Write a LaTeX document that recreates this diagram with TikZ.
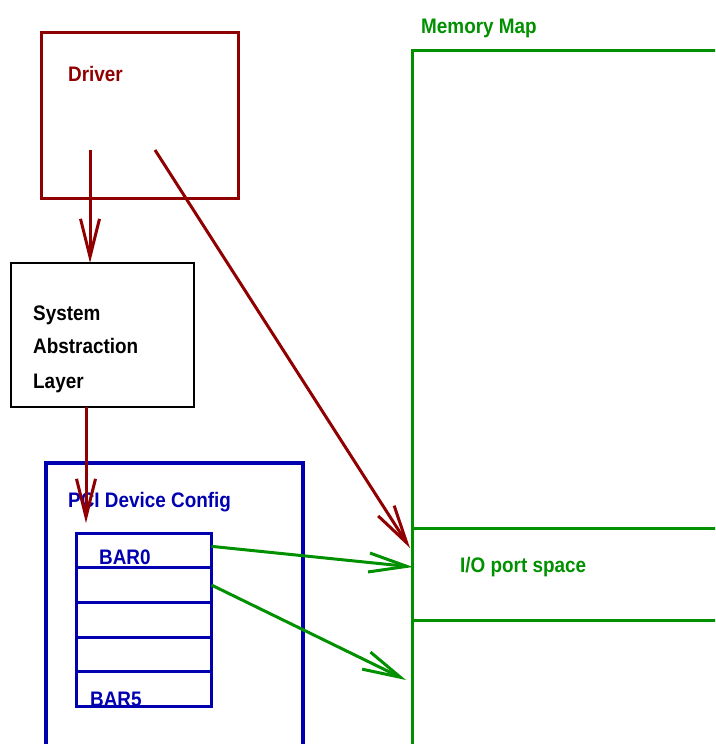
\documentclass[tikz,border=0pt]{standalone}
\usepackage{fontspec}
\setmainfont{Liberation Sans}[FakeStretch=0.9]
\usetikzlibrary{arrows.meta}
\definecolor{drvred}{RGB}{144,0,0}
\definecolor{pciblue}{RGB}{0,0,176}
\definecolor{memgreen}{RGB}{0,144,0}
\tikzset{
  box/.style={draw, anchor=north west, inner sep=0pt, outer sep=0pt},
  lbl/.style={anchor=base west, inner sep=0pt, font=\fontsize{21}{25}\selectfont\bfseries},
  barb/.style={-{Straight Barb[length=38pt,width=19pt]}, line width=3pt},
}
\begin{document}
\begin{tikzpicture}[x=1pt,y=-1pt]
\clip (0,0) rectangle (715,744);

% driver and abstraction layer
\node[box, drvred, line width=3pt, minimum width=197, minimum height=166] (drv) at (41,32) {};
\node[lbl, drvred] (drvtxt) at (68,81) {Driver};
\node[box, black, line width=1.2pt, minimum width=183, minimum height=144] (sal) at (11,263) {};
\node[lbl] (sal1) at (33,320) {System};
\node[lbl] (sal2) at (33,353) {Abstraction};
\node[lbl] (sal3) at (33,388) {Layer};

% pci config space
\node[box, pciblue, line width=3.2pt, minimum width=257, minimum height=340] (pci) at (46,463) {};
\node[lbl, pciblue] (pcitxt) at (68,507) {PCI Device Config};
\node[lbl, pciblue] (bar0txt) at (99,564) {BAR0};
\node[lbl, pciblue] (bar5txt) at (90,706) {BAR5};
\foreach \i in {0,...,4}
  \node[box, pciblue, line width=3pt, minimum width=135.5, minimum height=34.7] (bar\i) at (76,{533+34.7*\i}) {};

% memory map
\node[lbl, memgreen] (memtxt) at (421,33) {Memory Map};
\node[box, memgreen, line width=3pt, minimum width=400, minimum height=800] (mem) at (412,50) {};
\node[box, memgreen, line width=3pt, minimum width=400, minimum height=92] (io) at (412,528) {};
\node[lbl, memgreen] (iotxt) at (460,572) {I/O port space};

\coordinate (drvA) at (90,150);
\coordinate (drvB) at (155,150);
\coordinate (salOut) at (86,407);
\coordinate (pciIn) at (86,523);
\coordinate (ioA) at (410,548);
\coordinate (ioB) at (413,567);
\coordinate (memB) at (406,680);

\draw[barb, drvred] (drvA) -- (drvA |- sal.north);
\draw[barb, drvred] (drvB) -- (ioA);
\draw[barb, drvred] (salOut) -- (pciIn);
\draw[barb, memgreen] (bar0.east) ++(0,-4) -- (ioB);
\draw[barb, memgreen] (bar1.east) -- (memB);
\end{tikzpicture}
\end{document}
